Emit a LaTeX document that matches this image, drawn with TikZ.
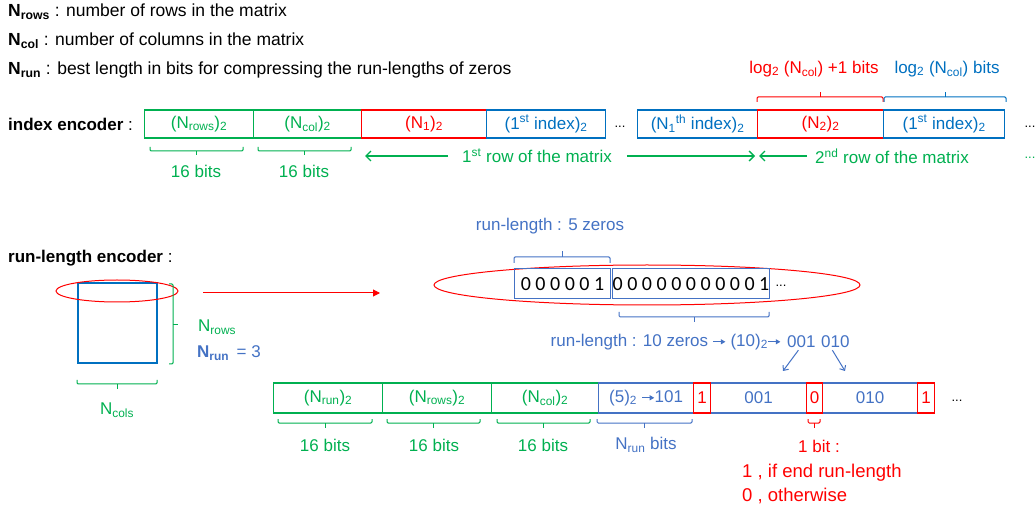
\documentclass[tikz,border=0pt]{standalone}
\usepackage{fontspec}
\setmainfont{Liberation Sans}
\newfontfamily\digitfont{Carlito}
\usetikzlibrary{arrows.meta,calc,shapes.geometric}

\definecolor{cgreen}{RGB}{0,176,80}
\definecolor{cred}{RGB}{255,0,0}
\definecolor{cblue}{RGB}{0,112,192}
\definecolor{lblue}{RGB}{68,114,196}

% small inline arrow used inside labels
\newcommand\tarr{\tikz[baseline=0pt,x=1pt,y=1pt]\draw[line width=0.9pt,-{Triangle[length=4.5pt,width=5pt]}] (0,4.6)--(12,4.6);}
% flat brace: colour, x1, x2, y of the ends, y of the bar, y of the tip
\newcommand\flatbrace[6]{%
  \draw[#1, line width=1pt, rounded corners=1.2pt] (#2,#4) -- (#2,#5) -- (#3,#5) -- (#3,#4);
  \draw[#1, line width=1pt] ({(#2+#3)/2},#5) -- ({(#2+#3)/2},#6);}

\tikzset{
  cellbox/.style={draw=#1, text=#1, line width=1.2pt, inner sep=0pt, minimum height=28pt, anchor=west},
  bitbox/.style={draw=lblue, line width=1pt, inner sep=0pt, minimum height=30pt, anchor=west, font=\digitfont\fontsize{20}{22}\selectfont},
  lowbox/.style={draw=#1, text=#1, line width=1.2pt, inner sep=0pt, minimum height=30pt, anchor=west},
  lbl/.style={inner sep=0pt, text=#1},
  legend/.style={inner sep=0pt, anchor=west, font=\fontsize{17.5}{20}\selectfont},
  garrow/.style={cgreen, line width=1.3pt, -{Straight Barb[length=5pt,width=10pt]}},
  barrow/.style={lblue, line width=1pt, -{Straight Barb[length=4pt,width=7pt]}},
  dots/.style={inner sep=0pt, font=\fontsize{13}{14}\selectfont},
}

\begin{document}
\begin{tikzpicture}[x=1pt, y=-1pt, font=\fontsize{17}{20}\selectfont]
\useasboundingbox (0,0) rectangle (1036,510);

% ---------- legend ----------
\node[legend] (lg1) at (8,12) {\textbf{N\textsubscript{rows}} : number of rows in the matrix};
\node[legend] (lg2) at (8,41) {\textbf{N\textsubscript{col}} : number of columns in the matrix};
\node[legend] (lg3) at (8,70) {\textbf{N\textsubscript{run}} : best length in bits for compressing the run-lengths of zeros};

% ---------- index encoder ----------
\node[lbl=black, anchor=west] (ie) at (8,124) {\textbf{index encoder} :};

\node[cellbox=cgreen, minimum width=109pt] (i1) at (144,124) {(N\textsubscript{rows})\textsubscript{2}};
\node[cellbox=cgreen, minimum width=108pt] (i2) at (253,124) {(N\textsubscript{col})\textsubscript{2}};
\node[cellbox=cred,   minimum width=125pt] (i3) at (361,124) {(N\textsubscript{1})\textsubscript{2}};
\node[cellbox=cblue,  minimum width=119pt] (i4) at (486,124) {(1\textsuperscript{st} index)\textsubscript{2}};
\node[dots] (id1) at (620,127) {...};
\node[cellbox=cblue,  minimum width=120pt] (i5) at (637,124) {(N\textsubscript{1}\textsuperscript{th} index)\textsubscript{2}};
\node[cellbox=cred,   minimum width=126pt] (i6) at (757,124) {(N\textsubscript{2})\textsubscript{2}};
\node[cellbox=cblue,  minimum width=121pt] (i7) at (883,124) {(1\textsuperscript{st} index)\textsubscript{2}};
\node[dots] (id2) at (1030,127) {...};

\flatbrace{cgreen}{150}{243}{147}{151}{155}
\flatbrace{cgreen}{258}{351}{147}{151}{155}
\node[lbl=cgreen] (ib1) at (196,171) {16 bits};
\node[lbl=cgreen] (ib2) at (304,171) {16 bits};

\flatbrace{cred}{757}{883}{102}{97}{92}
\flatbrace{cblue}{884}{1006}{102}{97}{92}
\node[lbl=cred]  (lgr) at (814,69) {log\textsubscript{2} (N\textsubscript{col}) +1 bits};
\node[lbl=cblue] (lgb) at (947,69) {log\textsubscript{2} (N\textsubscript{col}) bits};

\node[lbl=cgreen] (row1) at (537,156) {1\textsuperscript{st} row of the matrix};
\node[lbl=cgreen] (row2) at (892,156) {2\textsuperscript{nd} row of the matrix};
\node[dots, text=cgreen] (rd) at (1030,158) {...};
\coordinate (t1) at (365,156);
\coordinate (t2) at (755,156);
\coordinate (t3) at (759,156);
\draw[garrow] ($(row1.west)+(-14,0)$) -- (t1);
\draw[garrow] ($(row1.east)+(15,0)$) -- (t2);
\draw[garrow] ($(row2.west)+(-8,0)$) -- (t3);

% ---------- run-length encoder ----------
\node[lbl=black, anchor=west] (re) at (8,258) {\textbf{run-length encoder} :};

\node[draw=cblue, line width=2.6pt, minimum width=79pt, minimum height=80pt, inner sep=0pt] (mat) at (117.5,323) {};
\node[ellipse, draw=cred, line width=1pt, minimum width=122pt, minimum height=22pt, inner sep=0pt] (rowsel) at (117,291) {};

% bracket on the right side of the matrix
\draw[cgreen, line width=1pt, rounded corners=1.2pt] (169,284) -- (173,284) -- (173,364) -- (169,364);
\draw[cgreen, line width=1pt] (173,325) -- (178,325);
\node[lbl=cgreen, anchor=west] (nrows) at (198,327) {N\textsubscript{rows}};
\node[lbl=lblue, anchor=west] (nrun) at (197,353) {\textbf{N\textsubscript{run}}\, = 3};

\flatbrace{cgreen}{77}{157}{380}{384}{389}
\node[lbl=cgreen] (ncols) at (117,410) {N\textsubscript{cols}};

% the selected row as a bit string
\node[ellipse, draw=cred, line width=1pt, minimum width=426pt, minimum height=40pt, inner sep=0pt] (bigell) at (647,285) {};
\node[bitbox, minimum width=96pt] (bx1) at (514,284) {0 0 0 0 0 1};
\node[bitbox, minimum width=157pt] (bx2) at (612,284) {0 0 0 0 0 0 0 0 0 0 1};
\node[dots] (bd) at (781,286) {...};

\coordinate (rowtail) at (203,293);
\coordinate (rowtip) at (380,293);
\draw[cred, line width=1pt, -{Triangle[length=7pt,width=7pt]}] (rowtail) -- (rowtip);

\flatbrace{lblue}{514}{610}{263}{257}{251}
\node[lbl=lblue] (rl5) at (550,226) {run-length : 5 zeros};

\flatbrace{lblue}{619}{769}{312}{317}{322}
\node[lbl=lblue, anchor=east] (rl10) at (781,342) {run-length : 10 zeros \tarr{} (10)\textsubscript{2}\tarr};
\node[lbl=lblue, anchor=west] (n001) at (787,342) {001};
\node[lbl=lblue, anchor=west] (n010) at (821,342) {010};

% ---------- encoded stream ----------
\node[lowbox=cgreen, minimum width=109pt] (b1) at (273,398) {(N\textsubscript{run})\textsubscript{2}};
\node[lowbox=cgreen, minimum width=109pt] (b2) at (382,398) {(N\textsubscript{rows})\textsubscript{2}};
\node[lowbox=cgreen, minimum width=107pt] (b3) at (491,398) {(N\textsubscript{col})\textsubscript{2}};
\node[lowbox=lblue,  minimum width=95pt]  (b4) at (598,398) {(5)\textsubscript{2} \tarr101};
\node[lowbox=lblue,  minimum width=96pt]  (c001) at (710,398) {001};
\node[lowbox=lblue,  minimum width=95pt]  (c010) at (822,398) {010};
\node[lowbox=cred,   minimum width=17pt]  (e1) at (693,398) {1};
\node[lowbox=cred,   minimum width=16pt]  (e2) at (806,398) {0};
\node[lowbox=cred,   minimum width=17pt]  (e3) at (917,398) {1};
\node[dots] (ed) at (957,401) {...};

\coordinate (tip001) at (783,371);
\coordinate (tip010) at (845,371);
\draw[barrow] ($(n001.south)+(-3,2)$) -- (tip001);
\draw[barrow] ($(n010.south)+(-3,2)$) -- (tip010);

\flatbrace{cgreen}{278}{372}{419}{423}{428}
\flatbrace{cgreen}{387}{480}{419}{423}{428}
\flatbrace{cgreen}{497}{590}{419}{423}{428}
\flatbrace{lblue}{597}{692}{419}{423}{428}
\flatbrace{cred}{808}{820}{419}{423}{428}
\node[lbl=cgreen] (bb1) at (325,445) {16 bits};
\node[lbl=cgreen] (bb2) at (434,445) {16 bits};
\node[lbl=cgreen] (bb3) at (543,445) {16 bits};
\node[lbl=lblue]  (bb4) at (646,445) {N\textsubscript{run} bits};

\node[lbl=cred] (onebit) at (819,446) {1 bit :};
\node[lbl=cred, anchor=west, font=\fontsize{18.5}{22}\selectfont] (end1) at (742,473) {1 , if end run-length};
\node[lbl=cred, anchor=west, font=\fontsize{18.5}{22}\selectfont] (end0) at (742,496) {0 , otherwise};
\end{tikzpicture}
\end{document}
